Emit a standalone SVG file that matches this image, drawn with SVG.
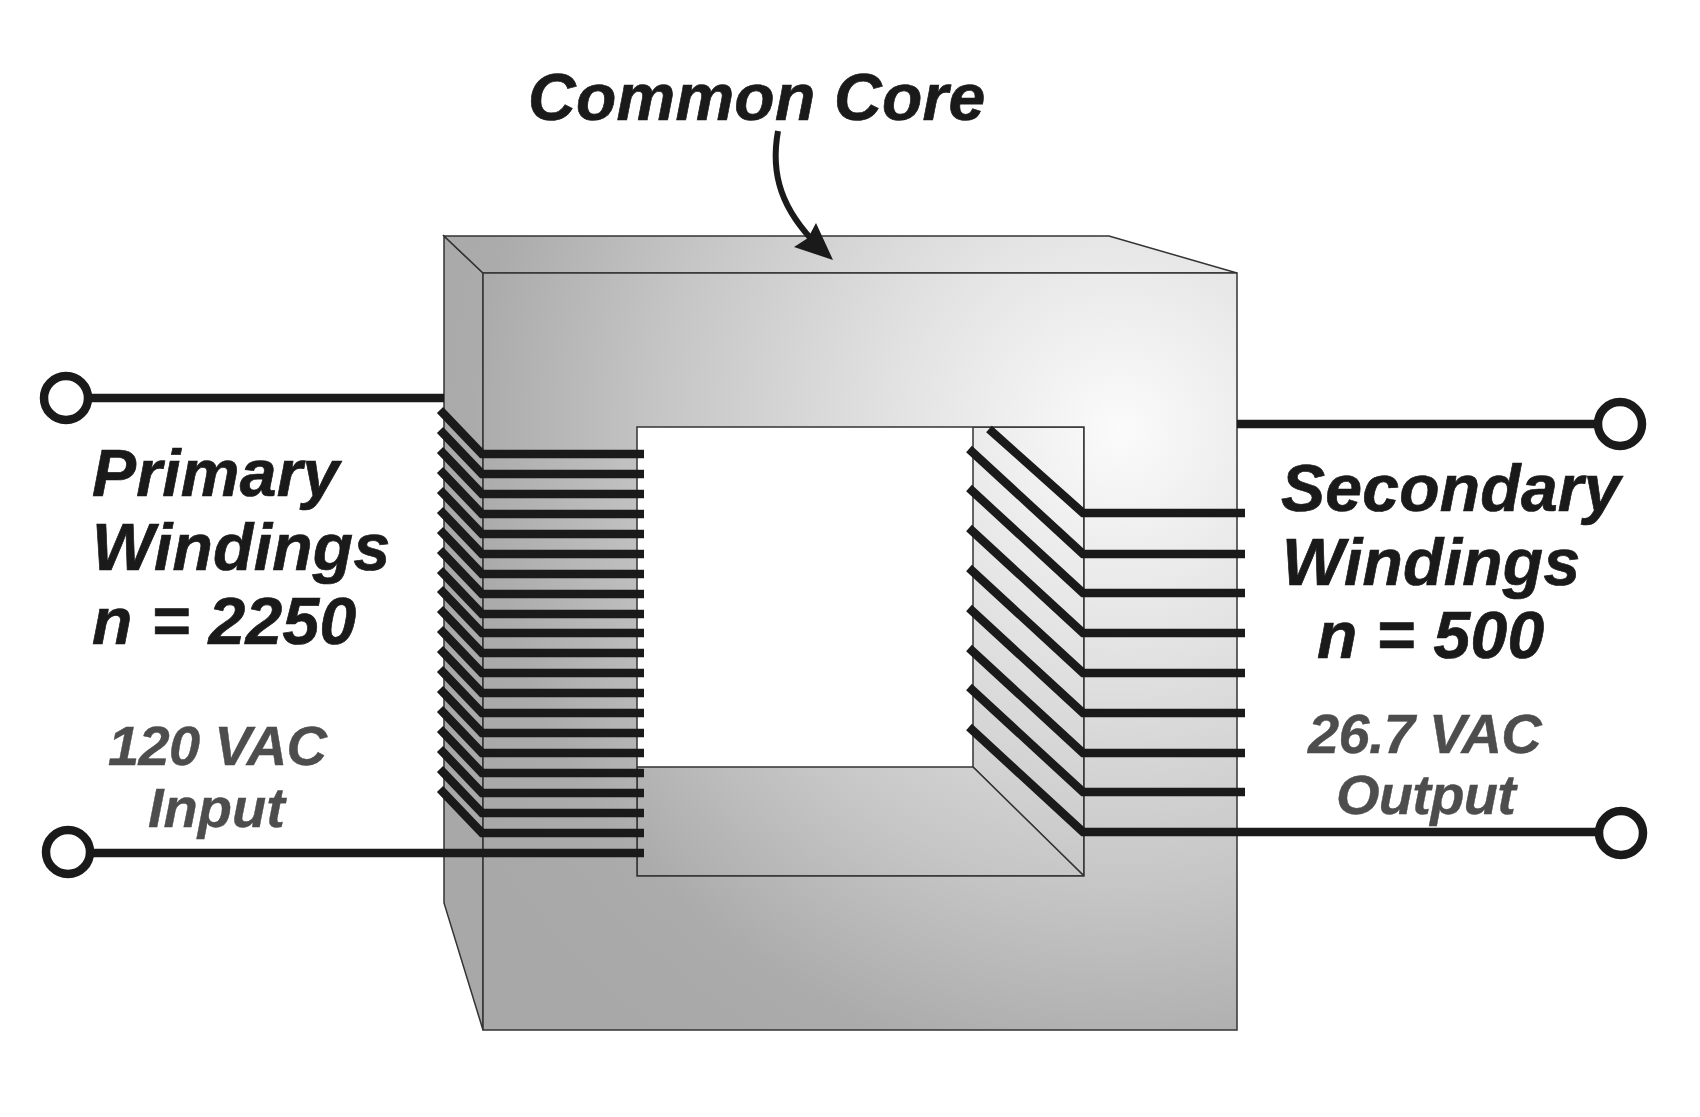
<svg xmlns="http://www.w3.org/2000/svg" width="1700" height="1117" viewBox="0 0 1700 1117">
<style>
.face{fill:url(#steel);stroke:#333;stroke-width:1.5;stroke-linejoin:miter}
.wire{fill:none;stroke:#1a1a1a;stroke-width:8.5;stroke-linejoin:miter;stroke-miterlimit:4}
.term{fill:#fff;stroke:#1a1a1a;stroke-width:8.5}
.big{font:italic bold 66px "Liberation Sans",Arial,sans-serif;fill:#1a1a1a;stroke:#1a1a1a;stroke-width:.7;letter-spacing:.25px}
.small{font:italic bold 56px "Liberation Sans",Arial,sans-serif;fill:#4d4d4d;stroke:#4d4d4d;stroke-width:.4}
.tight{letter-spacing:-.7px}
</style>
<defs>
<radialGradient id="steel" gradientUnits="userSpaceOnUse" cx="1120" cy="430" r="760">
<stop offset="0" stop-color="#fbfbfb"/>
<stop offset="0.3" stop-color="#e2e2e2"/>
<stop offset="0.6" stop-color="#c6c6c6"/>
<stop offset="0.85" stop-color="#ababab"/>
<stop offset="1" stop-color="#a8a8a8"/>
</radialGradient>
</defs>
<rect width="1700" height="1117" fill="#fff"/>
<g id="core">
<polygon class="face" points="444,236 483,273 483,1030 444,903"/>
<polygon class="face" points="444,236 1109,236 1237,273 483,273"/>
<polygon class="face" points="973,427 1084,427 1084,876 973,767"/>
<polygon class="face" points="637,767 973,767 1084,876 637,876"/>
<path class="face" fill-rule="evenodd" d="M483,273H1237V1030H483ZM637,427V876H1084V427Z"/>
</g>
<g id="connectors">
<path id="core-arrow-line" d="M778,131C770,175 782,210 818,246" fill="none" stroke="#1a1a1a" stroke-width="6"/>
<polygon id="core-arrow-head" fill="#1a1a1a" points="833,260 794,247 808,238 816,223"/>
<g id="primary-winding">
<polyline class="wire" points="90,398 444,398"/>
<polyline class="wire" points="440,410 482,454 644,454"/>
<polyline class="wire" points="440,430 482,474 644,474"/>
<polyline class="wire" points="440,450 482,494 644,494"/>
<polyline class="wire" points="440,470 482,514 644,514"/>
<polyline class="wire" points="440,490 482,534 644,534"/>
<polyline class="wire" points="440,510 482,554 644,554"/>
<polyline class="wire" points="440,530 482,574 644,574"/>
<polyline class="wire" points="440,550 482,594 644,594"/>
<polyline class="wire" points="440,570 482,614 644,614"/>
<polyline class="wire" points="440,589 482,633 644,633"/>
<polyline class="wire" points="440,609 482,653 644,653"/>
<polyline class="wire" points="440,629 482,673 644,673"/>
<polyline class="wire" points="440,649 482,693 644,693"/>
<polyline class="wire" points="440,669 482,713 644,713"/>
<polyline class="wire" points="440,689 482,733 644,733"/>
<polyline class="wire" points="440,709 482,753 644,753"/>
<polyline class="wire" points="440,729 482,773 644,773"/>
<polyline class="wire" points="440,749 482,793 644,793"/>
<polyline class="wire" points="440,769 482,813 644,813"/>
<polyline class="wire" points="440,789 482,833 644,833"/>
<polyline class="wire" points="90,853 644,853"/>
</g>
<g id="secondary-winding">
<polyline class="wire" points="1237,424 1600,424"/>
<polyline class="wire" points="989,429 1083,513 1245,513"/>
<polyline class="wire" points="969,449 1083,554 1245,554"/>
<polyline class="wire" points="969,488 1083,593 1245,593"/>
<polyline class="wire" points="969,528 1083,633 1245,633"/>
<polyline class="wire" points="969,568 1083,673 1245,673"/>
<polyline class="wire" points="969,608 1083,713 1245,713"/>
<polyline class="wire" points="969,648 1083,753 1245,753"/>
<polyline class="wire" points="969,687 1083,792 1245,792"/>
<polyline class="wire" points="969,727 1083,832 1600,832"/>
</g>
</g>
<g id="terminal-primary-top"><circle class="term" cx="66" cy="398" r="22"/></g>
<g id="terminal-primary-bottom"><circle class="term" cx="68" cy="852" r="22"/></g>
<g id="terminal-secondary-top"><circle class="term" cx="1620" cy="424" r="22"/></g>
<g id="terminal-secondary-bottom"><circle class="term" cx="1621" cy="833" r="22"/></g>
<g id="label-core"><text class="big" x="528" y="120">Common Core</text></g>
<g id="label-primary">
<text class="big" x="92" y="496">Primary</text>
<text class="big" x="92" y="570">Windings</text>
<text class="big" x="92" y="644">n = 2250</text>
</g>
<g id="label-secondary">
<text class="big" x="1281" y="511">Secondary</text>
<text class="big" x="1282" y="585">Windings</text>
<text class="big" x="1317" y="658">n = 500</text>
</g>
<g id="label-input">
<text class="small tight" x="108" y="765">120 VAC</text>
<text class="small" x="148" y="827">Input</text>
</g>
<g id="label-output">
<text class="small tight" x="1308" y="753">26.7 VAC</text>
<text class="small tight" x="1336" y="814">Output</text>
</g>
</svg>
